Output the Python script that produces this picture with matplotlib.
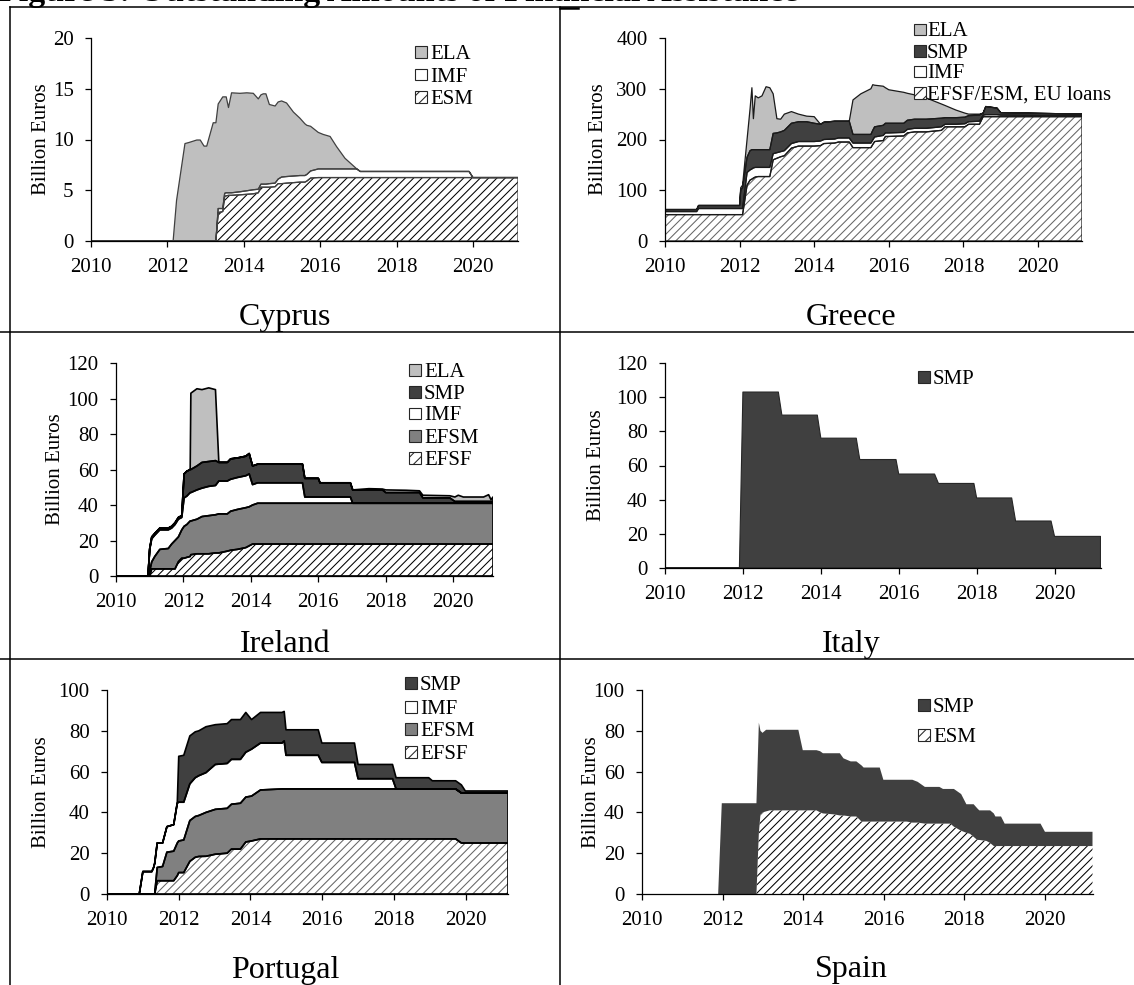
import matplotlib
matplotlib.use('Agg')
import numpy as np
import matplotlib.pyplot as plt
from matplotlib.patches import Rectangle
from matplotlib.lines import Line2D

plt.rcParams['font.family'] = ['Liberation Serif', 'DejaVu Serif']
plt.rcParams['hatch.linewidth'] = 0.75

# ---------------- data (billion euros) ----------------
XTICKS = [2010, 2012, 2014, 2016, 2018, 2020]

# Cyprus
cy_t = [2010.00, 2012.15, 2012.24, 2012.46, 2012.56, 2012.77, 2012.86, 2012.96, 2013.03, 2013.20,
        2013.27, 2013.33, 2013.45, 2013.50, 2013.54, 2013.60, 2013.68, 2013.90, 2014.08, 2014.25,
        2014.38, 2014.45, 2014.51, 2014.58, 2014.67, 2014.82, 2014.90, 2014.99, 2015.12, 2015.30,
        2015.47, 2015.60, 2015.65, 2015.75, 2015.95, 2016.08, 2016.26, 2016.43, 2016.65, 2016.96,
        2017.05, 2019.90, 2020.00, 2021.18]
cy_esm = [0, 0, 0, 0, 0, 0, 0, 0, 0, 0,
          0, 2.8, 2.9, 4.4, 4.45, 4.5, 4.5, 4.55, 4.6, 4.65,
          4.75, 5.3, 5.3, 5.3, 5.3, 5.35, 5.65, 5.65, 5.7, 5.75,
          5.8, 5.8, 5.9, 6.2, 6.25, 6.25, 6.25, 6.25, 6.25, 6.25,
          6.25, 6.25, 6.25, 6.25]
cy_imf = [0, 0, 0, 0, 0, 0, 0, 0, 0, 0,
          0, 0.4, 0.3, 0.3, 0.3, 0.25, 0.25, 0.3, 0.35, 0.4,
          0.35, 0.3, 0.3, 0.3, 0.35, 0.35, 0.45, 0.65, 0.65, 0.65,
          0.65, 0.65, 0.65, 0.7, 0.85, 0.85, 0.85, 0.85, 0.85, 0.85,
          0.6, 0.6, 0, 0]
cy_ela = [0, 0, 4.0, 9.6, 9.7, 9.95, 9.95, 9.35, 9.35, 11.65,
          11.65, 10.3, 11.0, 9.5, 9.45, 8.4, 9.85, 9.7, 9.65, 9.5,
          8.9, 8.8, 8.9, 8.9, 7.8, 7.6, 7.6, 7.5, 7.25, 6.3,
          5.65, 5.1, 4.85, 4.4, 3.6, 3.4, 3.2, 2.2, 1.05, 0,
          0, 0, 0, 0]

# Greece
gr_t = [2010.00, 2010.85, 2010.90, 2012.00, 2012.03, 2012.08, 2012.20, 2012.28, 2012.33, 2012.37,
        2012.42, 2012.50, 2012.60, 2012.71, 2012.81, 2012.90, 2013.00, 2013.10, 2013.20, 2013.39,
        2013.58, 2013.80, 2014.00, 2014.17, 2014.26, 2014.55, 2014.65, 2014.94, 2015.04, 2015.25,
        2015.52, 2015.57, 2015.62, 2015.85, 2015.91, 2016.00, 2016.40, 2016.50, 2016.69, 2017.00,
        2017.41, 2017.51, 2017.80, 2018.04, 2018.14, 2018.43, 2018.53, 2018.60, 2018.90, 2019.00,
        2021.18]
gr_eu = [52, 52, 52, 52, 52, 52, 110, 120, 122, 124,
         126, 127, 127, 127, 127, 160, 163, 166, 168, 183,
         187, 187, 187, 188, 192, 193, 195, 195, 184, 184,
         184, 190, 196, 198, 206, 206, 207, 213, 215, 215,
         218, 225, 225, 225, 230, 230, 245, 245, 245, 245,
         245]
gr_imf = [6, 6, 12, 12, 12, 12, 25, 20, 20, 20,
          19, 18, 18, 18, 18, 12, 11, 10, 10, 9,
          9, 9, 9, 9, 8, 8, 8, 8, 9, 9,
          9, 9, 9, 10, 7, 7, 7, 7, 7, 7,
          7, 5, 5, 6, 5, 6, 3, 4, 4, 3,
          2]
gr_smp = [4, 4, 6, 6, 36, 41, 30, 38, 38, 36,
          35, 35, 35, 35, 35, 40, 39, 39, 40, 40,
          39, 39, 36, 33, 34, 35, 33, 33, 17, 17,
          17, 19, 20, 20, 19, 19, 18, 18, 18, 18,
          17, 13, 13, 13, 12, 12, 4, 16, 13, 5,
          3]
gr_ela = [0, 0, 0, 0, 5, 5, 35, 82, 122, 61,
          106, 102, 106, 124, 122, 78, 28, 25, 32, 23,
          15, 11, 13, 0, 0, 0, 0, 0, 68, 80,
          90, 90, 82, 77, 70, 66, 61, 53, 48, 42,
          28, 24, 15, 8, 3, 2, 0, 0, 0, 0,
          0]

# Ireland
ie_t = [2010.00, 2010.95, 2011.00, 2011.06, 2011.15, 2011.30, 2011.55, 2011.65, 2011.75, 2011.85,
        2011.95, 2012.02, 2012.10, 2012.20, 2012.22, 2012.40, 2012.55, 2012.75, 2012.95, 2013.05,
        2013.30, 2013.40, 2013.60, 2013.85, 2013.95, 2014.05, 2014.20, 2015.53, 2015.60, 2016.00,
        2016.05, 2016.95, 2017.02, 2017.50, 2017.90, 2018.00, 2018.60, 2019.00, 2019.10, 2019.90,
        2020.05, 2020.15, 2020.30, 2020.90, 2021.05, 2021.12, 2021.18]
ie_efsf = [0, 0, 0, 4, 4, 4, 4, 4, 4, 8,
           10, 10, 10.5, 11, 12, 12.5, 12.5, 12.5, 13, 13,
           14, 14.5, 15, 16, 17, 18, 18, 18, 18, 18,
           18, 18, 18, 18, 18, 18, 18, 18, 18, 18,
           18, 18, 18, 18, 18, 18, 18]
ie_efsm = [0, 0, 3, 4, 7, 11, 11.5, 14, 16, 14,
           16, 18, 18.5, 20, 19, 19.5, 21, 21.5, 21.5, 22,
           21, 22, 22.5, 22.5, 22, 22, 23, 23, 23, 23,
           23, 23, 23, 23, 23, 23, 23, 23, 23, 23,
           23, 23, 23, 23, 23, 23, 23]
ie_imf = [0, 0, 12, 13, 12, 11, 10.5, 9, 9, 10,
          7, 16, 16, 16, 16, 16.5, 16, 16.5, 16.5, 18.5,
          18.5, 18, 18, 18, 18.5, 11.5, 11.5, 11.5, 3.5, 3.5,
          3.5, 3.5, 0, 0, 0, 0, 0, 0, 0, 0,
          0, 0, 0, 0, 0, 0, 0]
ie_smp = [0, 0, 0.5, 1, 1, 1, 1, 1, 1, 1,
          1, 13.5, 14, 13, 13, 13.5, 14.5, 14, 14, 10.5,
          10.5, 11.5, 11, 11, 11.5, 10.5, 10.5, 10.5, 10.5, 10.5,
          8, 8, 7.5, 7.5, 7.5, 6, 6, 6, 3, 3,
          1, 1, 1, 1, 1, 1, 1]
ie_ela = [0, 0, 0, 0, 0, 0, 0, 0, 0, 0,
          0, 0, 0, 0, 43, 43.5, 41, 41.5, 40, 0,
          0, 0, 0, 0, 0, 0, 0, 0, 0, 0,
          0, 0, 0, 0.7, 0.5, 1.5, 1.3, 1, 1.5, 1.2,
          2.5, 3.5, 2.5, 2.5, 3.8, 1, 2.5]

# Italy
it_t = [2010.00, 2011.91, 2012.00, 2012.91, 2013.00, 2013.91, 2014.00, 2014.91, 2015.00, 2015.93,
        2016.00, 2016.92, 2017.02, 2017.93, 2018.00, 2018.90, 2019.00, 2019.91, 2020.00, 2021.18]
it_smp = [0, 0, 103, 103, 89.5, 89.5, 76, 76, 63.5, 63.5,
          55, 55, 49.5, 49.5, 41, 41, 27.5, 27.5, 18.5, 18.5]

# Portugal
pt_t = [2010.00, 2010.90, 2011.00, 2011.25, 2011.30, 2011.33, 2011.40, 2011.55, 2011.67, 2011.86,
        2011.96, 2012.00, 2012.14, 2012.31, 2012.46, 2012.56, 2012.76, 2013.02, 2013.35, 2013.47,
        2013.72, 2013.87, 2014.03, 2014.28, 2014.88, 2014.94, 2014.99, 2015.89, 2015.99, 2016.90,
        2017.00, 2017.96, 2018.06, 2018.97, 2019.07, 2019.72, 2019.88, 2019.99, 2021.18]
pt_efsf = [0, 0, 0, 0, 0, 0, 6.5, 6.5, 6.5, 6.5,
           9, 10.5, 10.5, 16, 18, 18.4, 18.5, 19.5, 20, 22,
           22, 25.5, 26, 27, 27, 27, 27, 27, 27, 27,
           27, 27, 27, 27, 27, 27, 25, 25, 25]
pt_efsm = [0, 0, 0, 0, 0, 0, 6.5, 7, 14, 14.5,
           16, 15.5, 16, 20, 20, 20.1, 21.5, 22, 22, 22,
           22.5, 22, 22, 24, 24.5, 24.5, 24.5, 24.5, 24.5, 24.5,
           24.5, 24.5, 24.5, 24.5, 24.5, 24.5, 24.5, 24.5, 24.5]
pt_imf = [0, 0, 11, 11, 13, 15, 12, 11.5, 12.5, 13,
          19.5, 19, 18.5, 18, 19, 19.5, 19.5, 22, 22, 22,
          21.5, 22, 23, 23, 22.5, 23.5, 16.5, 16.5, 13, 13,
          5, 5, 0, 0, 0, 0, 0, 0, 0]
pt_smp = [0, 0, 0, 0, 0, 0, 0, 0, 0, 0,
          0.5, 22.5, 23, 23.5, 22.5, 22, 22.5, 19.5, 19.5, 19.5,
          19.5, 19.5, 14.5, 15, 15, 14.5, 12.5, 12.5, 9.5, 9.5,
          7, 7, 5.5, 5.5, 4, 4, 4, 1, 1]

# Spain
es_t = [2010.00, 2011.89, 2011.98, 2012.84, 2012.90, 2012.94, 2012.99, 2013.08, 2013.17, 2013.88,
        2013.99, 2014.33, 2014.42, 2014.49, 2014.78, 2014.91, 2015.00, 2015.18, 2015.32, 2015.45,
        2015.50, 2015.90, 2015.99, 2016.57, 2016.71, 2016.84, 2017.02, 2017.38, 2017.47, 2017.65,
        2017.74, 2017.92, 2018.05, 2018.14, 2018.23, 2018.32, 2018.37, 2018.55, 2018.64, 2018.73,
        2018.77, 2018.91, 2019.00, 2019.89, 2020.00, 2021.18]
es_esm = [0, 0, 0, 0, 30, 39, 40, 40.5, 41, 41,
          41, 41, 40, 39.5, 39, 38.5, 38.5, 38, 38, 35.5,
          35.5, 35.5, 35.5, 35.5, 35, 35, 34.5, 34.5, 34.5, 34.5,
          33, 31, 30, 29.5, 28, 26.5, 26.5, 26, 25, 23.5,
          23.5, 23.5, 23.5, 23.5, 23.5, 23.5]
es_smp = [0, 0, 44.5, 44.5, 54, 41, 39, 40, 39.5, 39.5,
          29.5, 29.5, 30, 29.5, 30, 30.5, 28, 27, 27, 27.5,
          26.5, 26.5, 20.5, 20.5, 21, 20, 18, 18, 17, 17,
          18.5, 18, 14, 14.5, 16, 15.5, 14.5, 15, 16, 16,
          14.5, 14.5, 11, 11, 7, 7]

# ---------------- styles ----------------
C_ELA, C_SMP, C_IMF, C_EFSM = '#bfbfbf', '#404040', 'white', '#808080'

W, H = 1134, 985
fig = plt.figure(figsize=(W / 100, H / 100), dpi=100)


def fx(x):
    return x / W


def fy(y):
    return 1 - y / H


XMAX = 2021.18


def panel(left, top, width, height, t, layers, ymax, ystep, outline, olw, ylab_x):
    ax = fig.add_axes([fx(left), fy(top + height), width / W, height / H])
    ax.patch.set_visible(False)
    t = np.asarray(t, dtype=float)
    base = np.zeros_like(t)
    for vals, fc, hatch, hc in layers:
        upper = base + np.asarray(vals, dtype=float)
        if hatch:
            ax.fill_between(t, base, upper, facecolor=fc, edgecolor=hc, hatch=hatch,
                            linewidth=0, zorder=1)
        else:
            ax.fill_between(t, base, upper, facecolor=fc, edgecolor='none', linewidth=0, zorder=1)
        if olw > 0:
            ax.fill_between(t, base, upper, facecolor='none', edgecolor=outline,
                            linewidth=olw, zorder=2)
        base = upper
    ax.set_xlim(2010, XMAX)
    ax.set_ylim(0, ymax)
    ax.set_xticks(XTICKS)
    ax.set_yticks(np.arange(0, ymax + 0.001, ystep))
    ax.set_yticklabels([f'{v:g}' for v in np.arange(0, ymax + 0.001, ystep)])
    for s in ('top', 'right'):
        ax.spines[s].set_visible(False)
    for s in ('left', 'bottom'):
        ax.spines[s].set_linewidth(0.9)
        ax.spines[s].set_color('black')
        ax.spines[s].set_zorder(5)
    ax.tick_params(direction='out', length=4.5, width=0.9, pad=8, labelsize=15, colors='black')
    ax.set_ylabel('Billion Euros', fontsize=15)
    ax.yaxis.label.set_va('center')
    ax.yaxis.set_label_coords((ylab_x - left) / width, 0.5)
    return ax


def legend(entries, sq_x, text_x, rows):
    s = 11.5
    for (label, fc, hatch), ry in zip(entries, rows):
        r = Rectangle((fx(sq_x), fy(ry + s / 2)), s / W, s / H, transform=fig.transFigure,
                      facecolor=fc, edgecolor='#262626', lw=0.8, hatch=hatch)
        fig.add_artist(r)
        fig.text(fx(text_x), fy(ry + 7), label, fontsize=15, ha='left', va='baseline')


HAT = '////'
HAT_L = '///'

# Cyprus
panel(91, 38, 427, 203, cy_t,
      [(cy_esm, 'white', HAT, 'black'), (cy_imf, C_IMF, None, None), (cy_ela, C_ELA, None, None)],
      20, 5, '#404040', 0.9, 41)
legend([('ELA', C_ELA, None), ('IMF', C_IMF, None), ('ESM', 'white', HAT_L)], 415, 430, [52, 74.5, 97])

# Greece
panel(665, 38, 417, 203, gr_t,
      [(gr_eu, 'white', HAT, '#666666'), (gr_imf, C_IMF, None, None), (gr_smp, C_SMP, None, None),
       (gr_ela, C_ELA, None, None)],
      400, 100, '#1a1a1a', 0.9, 598)
legend([('ELA', C_ELA, None), ('SMP', C_SMP, None), ('IMF', C_IMF, None),
        ('EFSF/ESM, EU loans', 'white', HAT_L)], 914, 927, [29.5, 51, 71.5, 93])

# Ireland
panel(116, 363, 377, 213, ie_t,
      [(ie_efsf, 'white', HAT, 'black'), (ie_efsm, C_EFSM, None, None), (ie_imf, C_IMF, None, None),
       (ie_smp, C_SMP, None, None), (ie_ela, C_ELA, None, None)],
      120, 20, 'black', 1.2, 56)
legend([('ELA', C_ELA, None), ('SMP', C_SMP, None), ('IMF', C_IMF, None), ('EFSM', C_EFSM, None),
        ('EFSF', 'white', HAT_L)], 409, 424, [370, 392, 413.5, 436, 458])

# Italy
panel(665, 363, 435.5, 205, it_t, [(it_smp, C_SMP, None, None)],
      120, 20, '#262626', 0.8, 596)
legend([('SMP', C_SMP, None)], 918, 933, [377])

# Portugal
panel(107, 690, 401, 204, pt_t,
      [(pt_efsf, 'white', HAT, '#666666'), (pt_efsm, C_EFSM, None, None), (pt_imf, C_IMF, None, None),
       (pt_smp, C_SMP, None, None)],
      100, 20, 'black', 1.2, 42)
legend([('SMP', C_SMP, None), ('IMF', C_IMF, None), ('EFSM', C_EFSM, None), ('EFSF', 'white', HAT_L)],
       405, 420, [683, 707, 729, 752])

# Spain
panel(642, 690, 450.5, 204, es_t,
      [(es_esm, 'white', HAT, 'black'), (es_smp, C_SMP, None, None)],
      100, 20, 'black', 0, 592)
legend([('SMP', C_SMP, None), ('ESM', 'white', HAT_L)], 918, 933, [705, 735])

# captions
for name, cx, by in [('Cyprus', 285, 325), ('Greece', 851, 325), ('Ireland', 285, 652),
                     ('Italy', 851, 652), ('Portugal', 285, 978), ('Spain', 851, 977)]:
    fig.text(fx(cx), fy(by), name, fontsize=23, ha='center', va='baseline')


# table grid lines
def hline(y, x0, x1, lw=1.1):
    fig.add_artist(Line2D([fx(x0), fx(x1)], [fy(y), fy(y)], transform=fig.transFigure,
                          color='black', lw=lw))


def vline(x, y0, y1, lw=1.1):
    fig.add_artist(Line2D([fx(x), fx(x)], [fy(y0), fy(y1)], transform=fig.transFigure,
                          color='black', lw=lw))


hline(7, 10, W)
hline(332, 0, W)
hline(659, 0, W)
vline(10, 7, H)
vline(560, 7, H)
hline(7.5, 560, 578, lw=1.8)

# title of the page, cut off at the very top as in the source scan
fig.text(fx(-2), fy(1.0), 'Figure 5: Outstanding Amounts of Financial Assistance', fontsize=24.5,
         fontweight='bold', ha='left', va='baseline')

fig.savefig('out.png', dpi=100)
